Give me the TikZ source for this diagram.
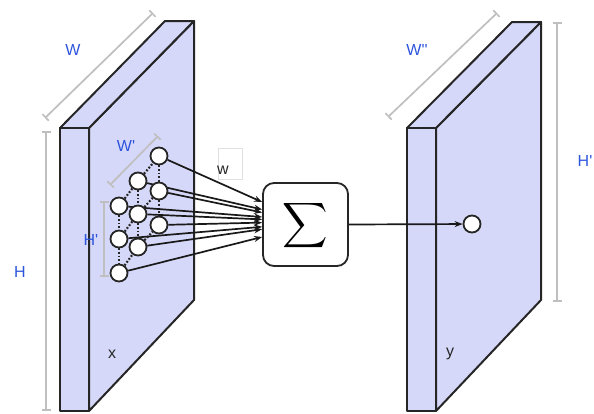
\documentclass[tikz,border=0pt]{standalone}
\usepackage{fontspec}
\setmainfont{Liberation Sans}
\usetikzlibrary{arrows.meta,backgrounds}
\definecolor{slabfill}{RGB}{214,216,249}
\definecolor{lblblue}{RGB}{45,85,220}
\newcommand{\sq}{\textquotesingle}
\begin{document}
\begin{tikzpicture}[x=1pt,y=-1pt,
  slab/.style={draw=black!85, line width=2pt, fill=slabfill, line join=round},
  dim/.style={draw=black!25, line width=1.7pt, {Bar[width=9pt]}-{Bar[width=9pt]}},
  lbl/.style={text=lblblue, font=\fontsize{16}{16}\selectfont, inner sep=0pt},
  txt/.style={text=black!85, font=\fontsize{16}{16}\selectfont, inner sep=0pt},
  neuron/.style={circle, draw=black!85, fill=white, line width=1.8pt, minimum size=17pt, inner sep=0pt},
  conn/.style={-{Stealth[length=8pt,width=6pt]}, line width=1.7pt, black!90},
  grid/.style={dash pattern=on 1.8pt off 1.8pt, line width=2.2pt, black!85}]
\useasboundingbox (0,0) rectangle (594,413);
\begin{pgfonlayer}{background}
  % left slab x
  \draw[slab] (89,128) -- (194,21) -- (194,300) -- (89,411) -- cycle;
  \draw[slab] (60,128) -- (165,21) -- (194,21) -- (89,128) -- cycle;
  \draw[slab] (60,128) rectangle (89,411);
  % right slab y
  \draw[slab] (436,128) -- (541,22) -- (541,300) -- (436,411) -- cycle;
  \draw[slab] (407,128) -- (512,22) -- (541,22) -- (436,128) -- cycle;
  \draw[slab] (407,128) rectangle (436,411);
  % dimension lines
  \draw[dim] (45,118) -- (153,13);
  \draw[dim] (46,131) -- (46,411);
  \draw[dim] (388,117) -- (497,13);
  \draw[dim] (557,22) -- (557,302);
  \draw[dim] (110,185) -- (158,136);
  \draw[dim] (104,201) -- (104,277);
\end{pgfonlayer}
% labels
\node[lbl] (lW) at (73,50) {W};
\node[lbl] (lH) at (20,272) {H};
\node[lbl] (lW2) at (417,50) {W\sq\sq};
\node[lbl] (lH2) at (585,161) {H\sq};
\node[lbl] (lWp) at (126,146) {W\sq};
\node[lbl] (lHp) at (91,240) {H\sq};
\node[txt] (lx) at (112,354) {x};
\node[txt] (ly) at (450,354) {y};
\node[txt, draw=black!12, line width=0.6pt, minimum width=24pt, minimum height=31pt] (lw) at (230,164) {};
\node[txt] (lwt) at (223,170) {w};
% sum box
\node[draw=black!85, line width=1.8pt, rounded corners=11pt, minimum width=85pt, minimum height=83pt, fill=white] (sig) at (305.5,224.5) {};
\node[scale=3.15, inner sep=0pt] (sigsym) at (305,226) {$\displaystyle\sum$};
% neurons: g<col><row>
\foreach \n/\x/\y in {g00/119/206, g01/119/239, g02/119/273,
                      g10/138/181, g11/138/214, g12/138/247,
                      g20/159/156, g21/159/191, g22/159/225}
  \node[neuron] (\n) at (\x,\y) {};
\node[neuron] (out) at (472,224) {};
\begin{pgfonlayer}{background}
  \foreach \c in {0,1,2}{
    \draw[grid] (g\c0) -- (g\c1);
    \draw[grid] (g\c1) -- (g\c2);
  }
  \foreach \r in {0,1,2}{
    \draw[grid] (g0\r) -- (g1\r);
    \draw[grid] (g1\r) -- (g2\r);
  }
  \foreach \n/\t in {g20/202, g10/209.5, g21/212.5, g00/217, g11/219.4,
                     g22/222.6, g01/226.8, g12/229.2, g02/237}
    \draw[conn] (\n) -- (sig.west |- 0,\t);
\end{pgfonlayer}
\draw[conn] (sig.east) -- (out);
\end{tikzpicture}
\end{document}
